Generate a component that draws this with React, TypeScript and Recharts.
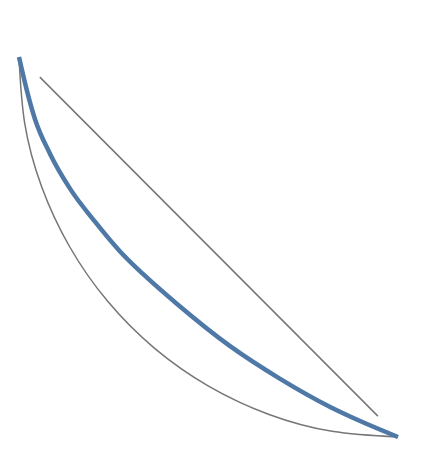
import React from "react";
import { LineChart, Line, XAxis, YAxis } from "recharts";

const blueCurve = [
  { x: 0, y: 1 },
  { x: 0.021, y: 0.911 },
  { x: 0.042, y: 0.837 },
  { x: 0.082, y: 0.745 },
  { x: 0.135, y: 0.653 },
  { x: 0.201, y: 0.566 },
  { x: 0.266, y: 0.489 },
  { x: 0.327, y: 0.429 },
  { x: 0.417, y: 0.35 },
  { x: 0.557, y: 0.239 },
  { x: 0.689, y: 0.153 },
  { x: 0.821, y: 0.079 },
  { x: 0.9, y: 0.042 },
  { x: 1, y: 0 },
];

const grayArc = [
  { x: 0, y: 1 },
  { x: 0.015, y: 0.826 },
  { x: 0.06, y: 0.658 },
  { x: 0.134, y: 0.5 },
  { x: 0.234, y: 0.357 },
  { x: 0.357, y: 0.234 },
  { x: 0.5, y: 0.134 },
  { x: 0.658, y: 0.06 },
  { x: 0.826, y: 0.015 },
  { x: 1, y: 0 },
];

const diagonal = [
  { x: 0.055, y: 0.947 },
  { x: 0.947, y: 0.055 },
];

export default function App() {
  return (
    <LineChart
      width={422}
      height={460}
      margin={{ top: 49, right: 32, bottom: 31, left: 11 }}
    >
      <XAxis type="number" dataKey="x" domain={[0, 1]} hide allowDuplicatedCategory={false} />
      <YAxis type="number" dataKey="y" domain={[0, 1]} hide />
      <Line
        data={grayArc}
        dataKey="y"
        type="natural"
        stroke="#767676"
        strokeWidth={1.5}
        dot={false}
        activeDot={false}
        isAnimationActive={false}
      />
      <Line
        data={diagonal}
        dataKey="y"
        type="linear"
        stroke="#767676"
        strokeWidth={1.5}
        dot={false}
        activeDot={false}
        isAnimationActive={false}
      />
      <Line
        data={blueCurve}
        dataKey="y"
        type="monotone"
        stroke="#4e79a7"
        strokeWidth={4.5}
        dot={false}
        activeDot={false}
        isAnimationActive={false}
      />
    </LineChart>
  );
}
